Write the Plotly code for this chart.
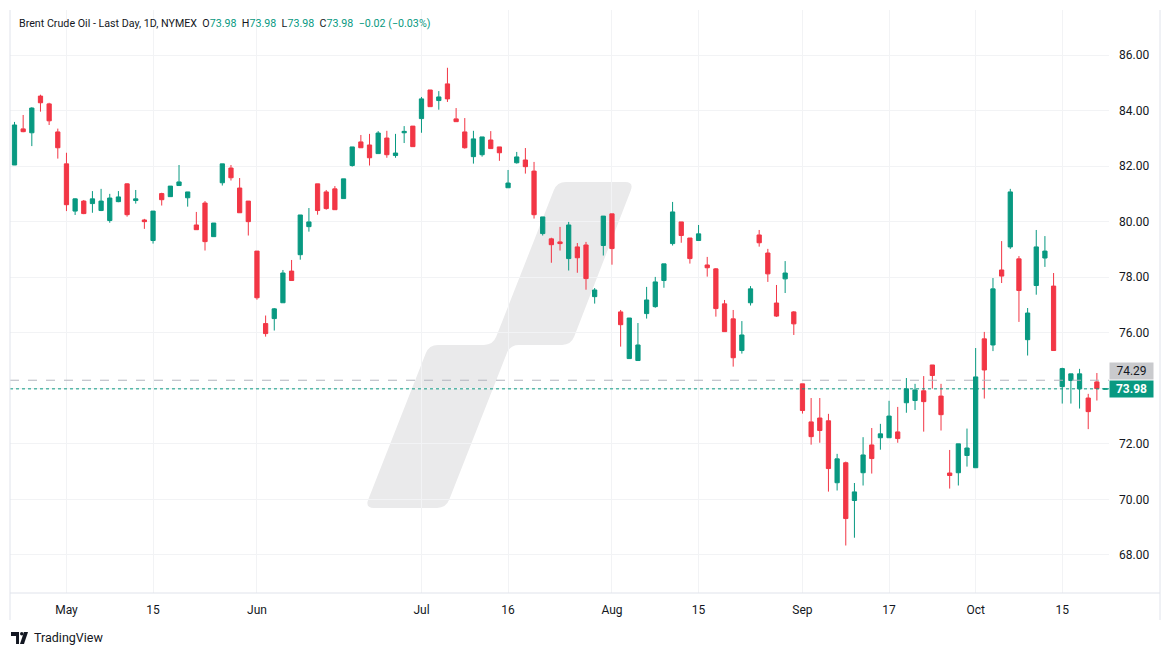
import math
import plotly.graph_objects as go

# ---------------- data ----------------
dates = [
    "2024-04-23", "2024-04-24", "2024-04-25", "2024-04-26", "2024-04-29", "2024-04-30",
    "2024-05-01", "2024-05-02", "2024-05-03", "2024-05-06", "2024-05-07", "2024-05-08",
    "2024-05-09", "2024-05-10", "2024-05-13", "2024-05-14", "2024-05-15", "2024-05-16",
    "2024-05-17", "2024-05-20", "2024-05-21", "2024-05-22", "2024-05-23", "2024-05-24",
    "2024-05-28", "2024-05-29", "2024-05-30", "2024-05-31",
    "2024-06-03", "2024-06-04", "2024-06-05", "2024-06-06", "2024-06-07", "2024-06-10",
    "2024-06-11", "2024-06-12", "2024-06-13", "2024-06-14", "2024-06-17", "2024-06-18",
    "2024-06-20", "2024-06-21", "2024-06-24", "2024-06-25", "2024-06-26", "2024-06-27",
    "2024-06-28",
    "2024-07-01", "2024-07-02", "2024-07-03", "2024-07-05", "2024-07-08", "2024-07-09",
    "2024-07-10", "2024-07-11", "2024-07-12", "2024-07-15", "2024-07-16", "2024-07-17",
    "2024-07-18", "2024-07-19", "2024-07-22", "2024-07-23", "2024-07-24", "2024-07-25",
    "2024-07-26", "2024-07-29", "2024-07-30", "2024-07-31",
    "2024-08-01", "2024-08-02", "2024-08-05", "2024-08-06", "2024-08-07", "2024-08-08",
    "2024-08-09", "2024-08-12", "2024-08-13", "2024-08-14", "2024-08-15", "2024-08-16",
    "2024-08-19", "2024-08-20", "2024-08-21", "2024-08-22", "2024-08-23", "2024-08-26",
    "2024-08-27", "2024-08-28", "2024-08-29", "2024-08-30",
    "2024-09-03", "2024-09-04", "2024-09-05", "2024-09-06", "2024-09-09", "2024-09-10",
    "2024-09-11", "2024-09-12", "2024-09-13", "2024-09-16", "2024-09-17", "2024-09-18",
    "2024-09-19", "2024-09-20", "2024-09-23", "2024-09-24", "2024-09-25", "2024-09-26",
    "2024-09-27", "2024-09-30",
    "2024-10-01", "2024-10-02", "2024-10-03", "2024-10-04", "2024-10-07", "2024-10-08",
    "2024-10-09", "2024-10-10", "2024-10-11", "2024-10-14", "2024-10-15", "2024-10-16",
    "2024-10-17", "2024-10-18", "2024-10-21", "2024-10-22",
]

opens = [
    82.04, 83.34, 83.20, 84.52, 84.24, 83.23,
    82.08, 80.38, 80.74, 80.65, 80.40, 80.04, 80.72, 81.36, 80.76, 80.06, 79.32, 81.01,
    80.90, 81.30, 80.86, 79.88, 80.67, 79.46, 81.40, 81.93, 81.21, 80.74,
    78.94, 76.33, 76.51, 77.08, 78.22, 78.81, 79.82, 81.36, 81.07, 81.18, 80.83, 82.02,
    82.87, 82.76, 82.45, 83.01, 82.38, 83.20, 83.44,
    83.71, 84.74, 84.36, 84.96, 83.70, 83.23, 82.34, 82.41, 82.94, 82.69, 81.22, 82.12,
    82.22, 81.82, 79.57, 79.38, 79.27, 78.67, 79.09, 79.16, 77.30, 79.14,
    80.28, 76.75, 75.07, 75.00, 76.69, 76.94, 77.88, 79.21, 79.99, 79.41, 79.32, 78.44,
    78.30, 77.04, 76.50, 75.36, 77.08, 79.52, 78.87, 77.07, 77.94, 76.75,
    74.16, 72.79, 72.93, 72.83, 70.60, 71.32, 69.96, 70.96, 71.96, 72.22, 72.22, 72.43,
    73.48, 73.56, 73.91, 74.84, 73.72, 70.95, 70.96, 71.58,
    71.14, 75.78, 75.56, 78.26, 79.09, 78.66, 75.75, 77.70, 78.69, 77.68, 74.06, 74.28,
    73.98, 73.65, 74.23, 73.97,
]
highs = [
    83.59, 83.84, 84.12, 84.57, 84.28, 83.35,
    82.48, 80.84, 80.78, 81.10, 81.18, 81.00, 81.10, 81.38, 81.14, 80.10, 80.38, 81.04,
    81.28, 82.04, 81.07, 80.35, 80.74, 79.95, 82.08, 82.04, 81.57, 80.74,
    78.94, 76.62, 76.89, 78.26, 78.62, 80.24, 80.49, 81.36, 81.14, 81.28, 81.54, 82.69,
    83.12, 83.16, 83.26, 83.27, 83.16, 83.44, 83.44,
    84.49, 84.74, 84.70, 85.54, 84.09, 83.73, 83.27, 83.05, 83.26, 82.69, 81.86, 82.51,
    82.65, 82.15, 80.17, 79.42, 79.81, 79.99, 79.23, 79.27, 77.61, 80.20,
    80.28, 76.82, 76.53, 76.35, 77.65, 78.01, 78.48, 80.71, 79.99, 79.41, 79.88, 78.73,
    78.33, 77.18, 76.82, 76.42, 77.68, 79.70, 79.02, 77.72, 78.58, 76.78,
    74.16, 73.65, 73.65, 73.08, 71.64, 71.36, 70.59, 72.24, 72.57, 72.72, 73.55, 73.33,
    74.37, 74.16, 74.44, 74.84, 74.16, 71.78, 72.00, 72.55,
    75.45, 76.03, 77.97, 79.30, 81.18, 78.76, 76.89, 79.70, 79.48, 78.15, 74.74, 74.52,
    74.70, 73.80, 74.55, 73.98,
]
lows = [
    82.04, 83.22, 82.72, 83.96, 83.48, 82.27,
    80.38, 80.24, 80.27, 80.32, 80.38, 79.96, 80.70, 80.18, 80.65, 79.74, 79.21, 80.58,
    80.90, 81.30, 80.54, 79.71, 78.96, 79.46, 81.30, 81.48, 80.32, 79.50,
    77.19, 75.86, 76.08, 77.08, 77.88, 78.63, 79.64, 80.25, 80.43, 80.43, 80.83, 81.98,
    82.66, 82.02, 82.45, 82.30, 82.30, 82.83, 82.70,
    83.20, 84.14, 84.03, 84.31, 83.60, 82.63, 82.09, 82.34, 82.63, 82.19, 81.22, 82.09,
    81.73, 80.11, 79.50, 78.52, 78.96, 78.24, 78.16, 77.55, 77.05, 78.78,
    78.45, 75.50, 75.07, 75.00, 76.51, 76.90, 77.62, 79.14, 79.24, 78.49, 79.32, 78.02,
    76.58, 76.04, 74.78, 75.25, 76.98, 79.10, 77.83, 76.57, 77.43, 75.92,
    73.09, 71.97, 72.04, 70.28, 70.32, 68.34, 68.62, 70.50, 70.93, 71.79, 72.22, 72.04,
    73.12, 73.22, 72.44, 73.99, 72.48, 70.39, 70.50, 71.18,
    71.14, 73.63, 75.34, 77.79, 79.02, 76.39, 75.18, 77.37, 78.37, 75.36, 73.45, 73.45,
    73.27, 72.53, 73.56, 73.97,
]
closes = [
    83.48, 83.24, 84.09, 84.28, 83.63, 82.66,
    80.61, 80.82, 80.29, 80.82, 80.74, 80.85, 80.89, 80.25, 80.82, 80.00, 80.38, 80.79,
    81.28, 81.43, 81.07, 79.71, 79.28, 79.95, 82.08, 81.58, 80.32, 80.00,
    77.26, 75.97, 76.86, 78.15, 77.88, 80.24, 79.99, 80.40, 80.47, 80.43, 81.54, 82.69,
    82.66, 82.30, 83.19, 82.41, 82.47, 83.25, 82.70,
    84.42, 84.14, 84.49, 84.42, 83.60, 82.66, 82.98, 83.05, 82.63, 82.48, 81.39, 82.33,
    81.98, 80.25, 80.17, 79.17, 79.21, 79.88, 78.70, 77.95, 77.54, 80.20,
    79.03, 76.29, 76.53, 75.56, 77.18, 77.83, 78.48, 80.35, 79.50, 78.67, 79.56, 78.34,
    76.87, 76.04, 75.10, 75.92, 77.58, 79.24, 78.12, 76.60, 78.15, 76.32,
    73.20, 72.26, 72.48, 71.11, 71.46, 69.31, 70.27, 71.60, 71.47, 72.36, 73.00, 72.19,
    73.98, 73.94, 73.52, 74.46, 73.05, 70.86, 72.00, 71.85,
    74.41, 74.66, 77.58, 78.04, 81.07, 77.52, 76.71, 79.09, 78.94, 75.36, 74.71, 74.52,
    74.52, 73.16, 73.99, 73.98,
]

tick_dates = ["2024-05-01", "2024-05-15", "2024-06-03", "2024-07-01", "2024-07-16",
              "2024-08-01", "2024-08-15", "2024-09-03", "2024-09-17", "2024-10-01",
              "2024-10-15"]
tick_text = ["May", "15", "Jun", "Jul", "16", "Aug", "15", "Sep", "17", "Oct", "15"]
price_ticks = [68, 70, 72, 74, 76, 78, 80, 82, 84, 86]
hidden_price_ticks = [74]          # covered by the last-price label in the reference
last_price = 73.98
ref_price = 74.29

# ---------------- style ----------------
GREEN = "#089981"
RED = "#F23645"
TEXT = "#131722"
GRID = "#f2f3f5"
W, H = 1171, 657
ML, MR, MT, MB = 10, 62, 10, 64
PW, PH = W - ML - MR, H - MT - MB


def px(x):
    return (x - ML) / PW


def py(y):
    return (H - MB - y) / PH


def rounded_path(points, r):
    """Closed polygon (pixel coords) with rounded corners, as a paper-coord SVG path."""
    n = len(points)
    segs = []
    for i in range(n):
        p0 = points[i - 1]
        p1 = points[i]
        p2 = points[(i + 1) % n]
        d1 = math.hypot(p0[0] - p1[0], p0[1] - p1[1])
        d2 = math.hypot(p2[0] - p1[0], p2[1] - p1[1])
        rr = min(r, d1 / 2, d2 / 2)
        a = (p1[0] + (p0[0] - p1[0]) * rr / d1, p1[1] + (p0[1] - p1[1]) * rr / d1)
        b = (p1[0] + (p2[0] - p1[0]) * rr / d2, p1[1] + (p2[1] - p1[1]) * rr / d2)
        segs.append((a, p1, b))
    out = f"M {px(segs[0][0][0]):.5f},{py(segs[0][0][1]):.5f} "
    for k, (a, c, b) in enumerate(segs):
        if k > 0:
            out += f"L {px(a[0]):.5f},{py(a[1]):.5f} "
        out += f"Q {px(c[0]):.5f},{py(c[1]):.5f} {px(b[0]):.5f},{py(b[1]):.5f} "
    return out + "Z"


fig = go.Figure()
fig.add_trace(go.Candlestick(
    x=dates, open=opens, high=highs, low=lows, close=closes,
    increasing=dict(line=dict(color=GREEN, width=1), fillcolor=GREEN),
    decreasing=dict(line=dict(color=RED, width=1), fillcolor=RED),
    whiskerwidth=0, showlegend=False, hoverinfo="skip",
))

# watermark (background logo)
pts = [(557, 182), (634, 182), (571, 345), (510, 345), (446, 508),
       (365, 508), (429, 345), (493, 345)]
shapes = [dict(type="path", path=rounded_path(pts, 9), xref="paper", yref="paper",
               fillcolor="#eaeaeb", line=dict(width=0), layer="below")]

# price lines
shapes.append(dict(type="line", xref="paper", x0=0, x1=1, yref="y",
                   y0=ref_price, y1=ref_price,
                   line=dict(color="#b2b5be", width=1, dash="dash")))
shapes.append(dict(type="line", xref="paper", x0=0, x1=1, yref="y",
                   y0=last_price, y1=last_price,
                   line=dict(color=GREEN, width=1, dash="dot")))

# frame lines
shapes.append(dict(type="line", xref="paper", yref="paper",
                   x0=px(10), x1=px(10), y0=py(10), y1=py(620),
                   line=dict(color="#e0e3eb", width=1)))
shapes.append(dict(type="line", xref="paper", yref="paper",
                   x0=px(10), x1=px(1160), y0=py(593), y1=py(593),
                   line=dict(color="#e0e3eb", width=1)))
shapes.append(dict(type="line", xref="paper", yref="paper",
                   x0=px(1160), x1=px(1160), y0=py(10), y1=py(620),
                   line=dict(color="#e0e3eb", width=1)))

annotations = []
header = ("Brent Crude Oil - Last Day, 1D, NYMEX&nbsp;&nbsp;"
          f"O<span style='color:{GREEN}'>73.98</span>&nbsp;&nbsp;"
          f"H<span style='color:{GREEN}'>73.98</span>&nbsp;&nbsp;"
          f"L<span style='color:{GREEN}'>73.98</span>&nbsp;&nbsp;"
          f"C<span style='color:{GREEN}'>73.98</span>&nbsp;&nbsp;"
          f"<span style='color:{GREEN}'>\u22120.02 (\u22120.03%)</span>")
annotations.append(dict(text=header, xref="paper", yref="paper", x=px(17), y=py(24),
                        xanchor="left", yanchor="middle", showarrow=False,
                        font=dict(family="Roboto", size=10.7, color=TEXT)))
annotations.append(dict(text=f"{ref_price:.2f}", xref="paper", yref="y", x=1, y=ref_price,
                        xanchor="left", yanchor="middle", yshift=9.5, showarrow=False,
                        bgcolor="#c9cacd", width=39, height=12, borderpad=2,
                        font=dict(family="Roboto", size=12, color=TEXT)))
annotations.append(dict(text=f"<b>{last_price:.2f}</b>", xref="paper", yref="y", x=1, y=last_price,
                        xanchor="left", yanchor="middle", showarrow=False,
                        bgcolor=GREEN, width=39, height=12, borderpad=2,
                        font=dict(family="Roboto", size=12, color="white")))
annotations.append(dict(text="TradingView", xref="paper", yref="paper", x=px(32), y=py(638),
                        xanchor="left", yanchor="middle", showarrow=False,
                        font=dict(family="Roboto", size=12.5, color=TEXT)))
# small logo icon
shapes.append(dict(type="path", xref="paper", yref="paper",
                   path=(f"M {px(11):.4f},{py(632):.4f} L {px(19):.4f},{py(632):.4f} "
                         f"L {px(19):.4f},{py(644):.4f} L {px(16):.4f},{py(644):.4f} "
                         f"L {px(16):.4f},{py(636):.4f} L {px(11):.4f},{py(636):.4f} Z"),
                   fillcolor=TEXT, line=dict(width=0)))
shapes.append(dict(type="circle", xref="paper", yref="paper",
                   x0=px(20), x1=px(23.5), y0=py(632), y1=py(635.5),
                   fillcolor=TEXT, line=dict(width=0)))
shapes.append(dict(type="path", xref="paper", yref="paper",
                   path=(f"M {px(24):.4f},{py(632):.4f} L {px(28):.4f},{py(632):.4f} "
                         f"L {px(24):.4f},{py(644):.4f} L {px(20):.4f},{py(644):.4f} Z"),
                   fillcolor=TEXT, line=dict(width=0)))

fig.update_layout(
    width=W, height=H,
    margin=dict(l=ML, r=MR, t=MT, b=MB),
    paper_bgcolor="white", plot_bgcolor="white",
    shapes=shapes, annotations=annotations,
    showlegend=False,
    font=dict(family="Roboto", size=12, color=TEXT),
    xaxis=dict(type="category", range=[-0.52, 126.4], rangeslider=dict(visible=False),
               tickmode="array", tickvals=tick_dates, ticktext=tick_text,
               showgrid=True, gridcolor=GRID, gridwidth=1, zeroline=False,
               showline=False, ticks="", tickfont=dict(size=12, color=TEXT),
               ticklabelstandoff=8),
    yaxis=dict(side="right", range=[66.63, 87.62], tickmode="array", tickvals=price_ticks,
               ticktext=["" if v in hidden_price_ticks else f"{v:.2f}" for v in price_ticks],
               showgrid=True, gridcolor=GRID, gridwidth=1, zeroline=False,
               showline=False, ticks="", tickfont=dict(size=12, color=TEXT),
               ticklabelstandoff=9),
)

fig.write_html("out.html")
